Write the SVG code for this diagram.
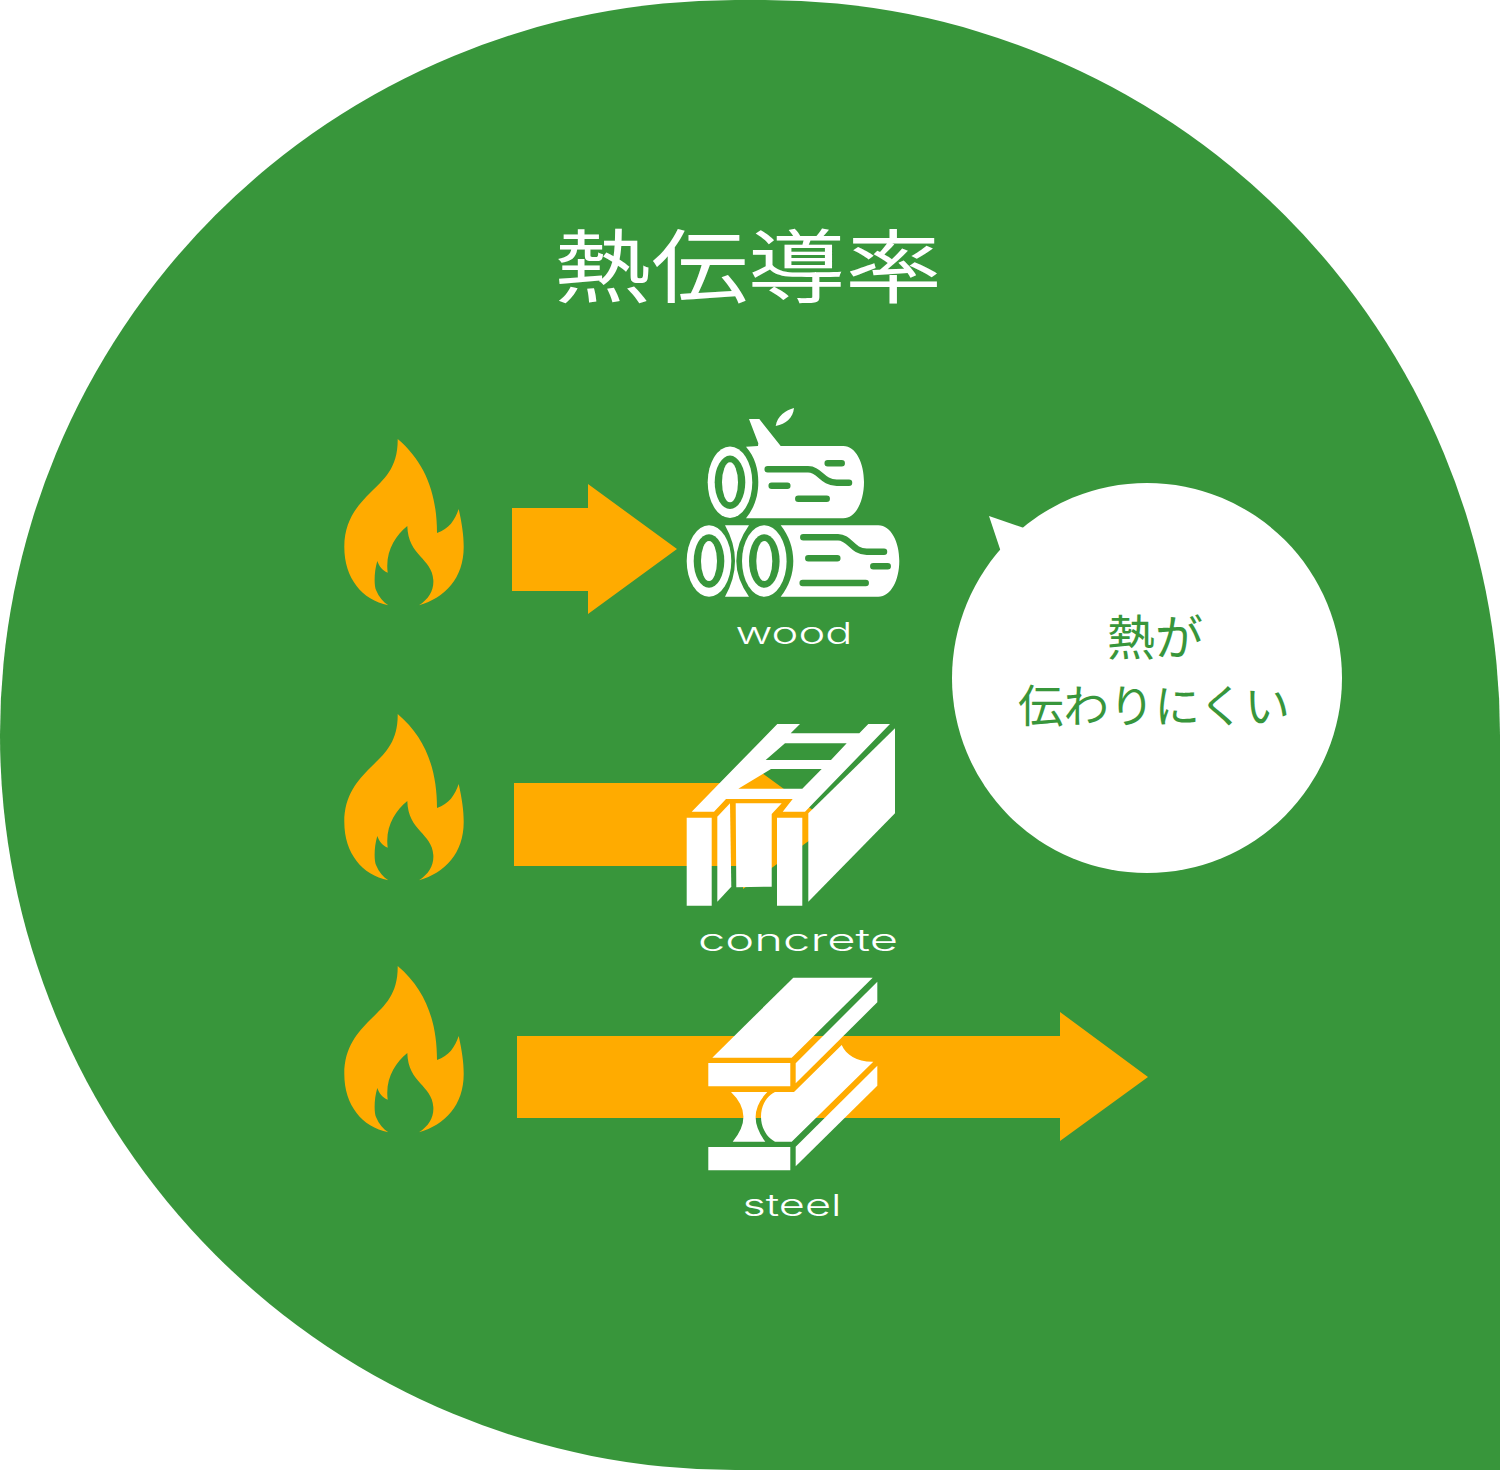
<svg xmlns="http://www.w3.org/2000/svg" width="1500" height="1470" viewBox="0 0 1500 1470">
<style>
.o{fill:#ffab00}
.w{fill:#fff}
.g{fill:#38963b}
.grain{fill:none;stroke:#38963b;stroke-width:6.5;stroke-linecap:round}
.ttl{font-family:"Noto Sans CJK JP","Noto Sans",sans-serif;font-weight:400}
.sub{font-family:"Noto Sans CJK JP","Noto Sans",sans-serif;font-weight:400;text-anchor:middle}
.lbl{font-family:"Inter","Liberation Sans",sans-serif;font-weight:300;fill:#fff;font-size:30px}
</style>
<defs>
<path id="flame" class="o" d="M397.7 439C426 463 437 495 437 533C449 529 455 520 458.7 509C462 524 463.7 535 463.7 547C463.7 578 445 598 419 605.3C429 599 434 590 433.3 580C432 558 408 556 407.3 526C395 536 385 552 387.7 572.700C382 570 379 566 377.300 561C374 572 374 585 376 590C379 597 383 602 388.300 605.300C362 600 344.300 578 344.300 547C344.300 520 358 505 370 493C384 479 398 468 397.700 439Z"/>
<g id="ringEnd"><ellipse class="w" cx="0" cy="0" rx="22.300" ry="35.800"/><ellipse class="g" cx="0" cy="0" rx="15.300" ry="26.700"/><ellipse class="w" cx="0" cy="0" rx="8" ry="20"/></g>
</defs>
<path id="background" class="g" d="M0 735A735 735 0 0 1 735 0H765A735 735 0 0 1 1500 735V1470H735A735 735 0 0 1 0 735Z"/>
<g id="title"><text class="ttl" x="554" y="296" font-size="80" fill="#fff" textLength="388" lengthAdjust="spacingAndGlyphs">熱伝導率</text></g>
<g id="flames">
<g id="flame-wood"><use href="#flame"/></g>
<g id="flame-concrete"><use href="#flame" y="275"/></g>
<g id="flame-steel"><use href="#flame" y="527"/></g>
</g>
<g id="connectors">
<path class="o" d="M512 508H588V484L677 549L588 614V591H512Z"/>
<path class="o" d="M514 783H743V759L832 824L743 889V866H514Z"/>
<path class="o" d="M517 1036H1060V1012L1148 1077L1060 1141V1118H517Z"/>
</g>
<g id="wood">
<path class="w" d="M794 408C786 410 777 416 775.700 426C786 424 793 418 794 408Z"/>
<path class="w" d="M749 419H759.300L780.700 446H843.300C856 446 864 463 864 482C864 501 856 518.300 843.300 518.300H746C755 507 758.300 495 758.300 482C758.300 469 755 457 746 446.700L758 446L758.300 443.300Z"/>
<use href="#ringEnd" x="730" y="482.300"/>
<path class="grain" d="M767.700 469.300H808C820 469.300 822 482.700 836.700 482.700H849M827.700 463.300H841.700M771.700 485.700H787.300M798.300 498.700H826.700"/>
<path class="w" d="M780.700 525.300H878.300C891 525.300 899.300 542 899.300 561C899.300 580 891 596.700 878.300 596.700H780.700C789 586 793.300 574 793.300 561C793.300 548 789 536 780.700 525.300Z"/>
<path class="w" d="M725 525.300H749Q723.600 561 749 596.700H725Q745 561 725 525.300Z"/>
<use href="#ringEnd" x="709" y="561"/>
<use href="#ringEnd" x="764.300" y="561"/>
<path class="grain" d="M803.300 537.300H838C850 537.300 852 551.700 866.700 551.700H884M808.300 558.300H837.300M873.300 566.300H887.700M802.700 583H865.700"/>
<text class="lbl" x="735.500" y="643.500" textLength="117" lengthAdjust="spacingAndGlyphs">wood</text>
</g>
<g id="concrete">
<path class="w" fill-rule="evenodd" d="M777.300 724H800L790.700 733.300H859.300L868.300 724H890L805 811.700H782.700L792.700 799H726L714 811.700H691.700ZM785 743.300H846.700L831 760H765.700ZM771 769H821.700L802.300 788.700H738.300Z"/>
<path class="w" d="M895 728.300V813.300L808.300 901.700V813.300Z"/>
<path class="w" d="M686.700 817.700H711.700V905.700H686.700Z"/>
<path class="w" d="M777 817.700H802.300V905.700H777Z"/>
<path class="w" d="M717.300 816.700L730 803.300L731.300 886.700L717.300 901.700Z"/>
<path class="w" d="M735.700 803.300H781.700L771.700 814V886.700L736.300 887.300Z"/>
<text class="lbl" x="698" y="950.500" textLength="200" lengthAdjust="spacingAndGlyphs">concrete</text>
</g>
<g id="steel">
<path class="w" d="M793.300 977.700H872.700L791.700 1057.700H712.300Z"/>
<path class="w" d="M708.300 1063H790.300V1086.300H708.300Z"/>
<path class="w" d="M877.300 981.700V1002.300L795.700 1083.300V1063.300Z"/>
<path class="w" d="M731 1092H767.300Q745 1115 765.300 1141.700H732.700Q755 1115 731 1092Z"/>
<path class="w" d="M841.700 1045C846 1055 857 1062 873.300 1061.700L791.700 1141.700H775C767 1138 761 1128 761 1116.700C761 1105 767 1096 775 1092H794Z"/>
<path class="w" d="M708.300 1147H790.300V1170.300H708.300Z"/>
<path class="w" d="M877.300 1065.700V1085.700L795.700 1166.300V1146.700Z"/>
<text class="lbl" x="742.500" y="1216" textLength="99" lengthAdjust="spacingAndGlyphs">steel</text>
</g>
<g id="bubble">
<circle class="w" cx="1147" cy="678" r="195"/>
<path class="w" d="M989 516L1024 528L1001 552Z"/>
<text class="sub" x="1155" y="655" font-size="48" fill="#38963b">熱が</text>
<text class="sub" x="1154" y="723" font-size="45.500" fill="#38963b">伝わりにくい</text>
</g>
</svg>
